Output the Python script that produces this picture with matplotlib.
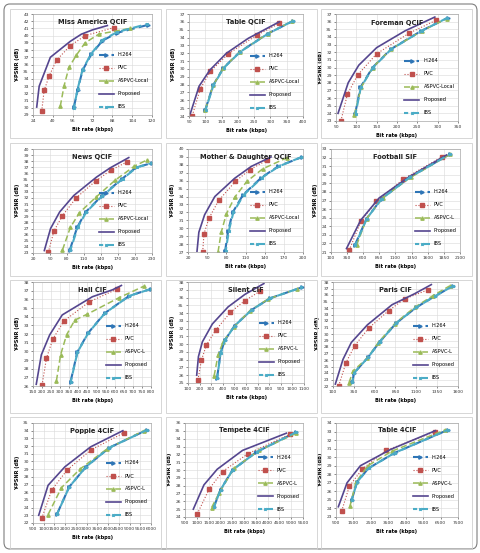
"""
courbes debit / distorsion, 12 sequences
"""
import matplotlib
matplotlib.use('Agg')
import matplotlib.pyplot as plt
from matplotlib.patches import Rectangle, FancyBboxPatch

W, H = 481, 553

# --- donnees (kbps, dB) ---
# Miss America QCIF
miss_h264 = ([57, 60, 64, 71, 80, 92, 117], [30.1, 32.5, 35.2, 37.4, 39.3, 40.4, 41.5])
miss_pvc = ([31, 33, 37, 43, 54, 66, 89], [29.5, 32.4, 34.4, 36.6, 38.6, 40.0, 41.1])
miss_aspvc = ([46, 49, 53, 59, 66, 77, 102], [30.2, 33.0, 35.6, 37.3, 39.0, 40.2, 41.0])
miss_prop = ([27, 29, 38, 54, 63, 72, 84], [30.1, 33.0, 37.0, 39.2, 40.2, 40.8, 41.4])
miss_ibs = ([57, 60, 64, 71, 80, 92, 116], [30.0, 32.6, 35.3, 37.5, 39.4, 40.5, 41.6])

# Table QCIF
tabq_h264 = ([100, 124, 155, 207, 292, 369], [24.8, 27.9, 30.1, 32.2, 34.5, 36.1])
tabq_pvc = ([60, 85, 116, 170, 258, 327], [24.05, 27.5, 29.7, 31.9, 34.3, 35.8])
tabq_aspvc = ([100, 124, 155, 207, 292, 367], [24.8, 27.9, 30.1, 32.2, 34.5, 36.1])
tabq_prop = ([54, 81, 114, 165, 232, 327], [24.3, 27.8, 29.85, 32.0, 33.9, 36.0])
tabq_ibs = ([101, 125, 156, 208, 293, 368], [24.8, 27.9, 30.1, 32.2, 34.5, 36.1])

# Foreman QCIF
fore_h264 = ([97, 110, 140, 185, 260, 325], [23.9, 27.4, 30.0, 32.4, 34.8, 36.5])
fore_pvc = ([62, 78, 103, 150, 230, 297], [23.0, 26.5, 29.0, 31.8, 34.5, 36.2])
fore_aspvc = ([95, 112, 140, 185, 262, 322], [23.8, 27.4, 30.0, 32.4, 34.8, 36.4])
fore_prop = ([55, 80, 106, 150, 220, 293], [24.0, 28.0, 30.3, 32.6, 34.8, 36.6])
fore_ibs = ([98, 111, 141, 186, 261, 324], [23.9, 27.4, 30.0, 32.4, 34.8, 36.5])

# News QCIF
news_h264 = ([85, 98, 113, 141, 177, 202, 230], [23.5, 27.2, 29.7, 32.3, 35.1, 37.0, 37.7])
news_pvc = ([47, 57, 72, 96, 131, 157, 186], [23.1, 26.6, 29.1, 32.0, 34.8, 36.5, 37.9])
news_aspvc = ([72, 86, 102, 132, 165, 199, 221], [23.5, 27.2, 29.6, 32.2, 34.9, 37.2, 38.2])
news_prop = ([40, 51, 67, 92, 132, 156, 189], [23.4, 27.0, 29.7, 32.4, 35.4, 36.9, 38.6])
news_ibs = ([86, 99, 114, 142, 178, 203, 230], [23.5, 27.2, 29.7, 32.3, 35.1, 37.0, 37.7])

# Mother & Daughter QCIF
moth_h264 = ([78, 83, 90, 106, 135, 161, 199], [27.1, 29.7, 32.0, 34.2, 36.4, 37.8, 39.0])
moth_pvc = ([43, 45, 53, 68, 94, 117, 144], [27.0, 29.3, 31.3, 33.5, 35.9, 37.4, 38.6])
moth_aspvc = ([67, 72, 80, 93, 112, 137, 175], [27.0, 29.5, 31.8, 33.9, 35.9, 37.5, 38.9])
moth_prop = ([34, 37, 46, 62, 93, 119, 150], [27.0, 29.5, 31.7, 34.0, 36.3, 37.8, 39.0])
moth_ibs = ([79, 84, 91, 107, 136, 162, 198], [27.1, 29.7, 32.0, 34.2, 36.4, 37.8, 39.0])

# Football SIF
foot_h264 = ([470, 653, 883, 1318, 1943], [21.8, 24.9, 27.2, 29.7, 32.4])
foot_pvc = ([382, 565, 805, 1223, 1823], [21.2, 24.6, 26.9, 29.5, 32.1])
foot_aspvc = ([497, 653, 900, 1334, 1949], [21.8, 24.9, 27.3, 29.7, 32.4])
foot_prop = ([340, 560, 847, 1300, 1890], [21.4, 24.7, 27.3, 29.7, 32.3])
foot_ibs = ([475, 655, 885, 1320, 1945], [21.8, 24.9, 27.2, 29.7, 32.4])

# Hall CIF
hall_h264 = ([357, 394, 453, 545, 680, 800], [26.5, 29.9, 32.1, 34.4, 36.4, 37.2])
hall_pvc = ([200, 224, 259, 320, 459, 615], [26.1, 29.2, 31.4, 33.5, 35.7, 37.2])
hall_aspvc = ([279, 302, 335, 380, 450, 625, 759], [26.6, 29.6, 31.9, 33.6, 34.3, 36.2, 37.5])
hall_prop = ([168, 196, 242, 311, 477, 588, 637], [26.2, 29.6, 31.9, 34.2, 36.3, 37.1, 37.6])
hall_ibs = ([358, 395, 454, 546, 681, 800], [26.5, 29.9, 32.1, 34.4, 36.4, 37.2])

# Silent CIF
sil_h264 = ([351, 380, 417, 503, 648, 806, 1080], [25.7, 28.8, 30.5, 32.4, 34.4, 35.9, 37.3])
sil_pvc = ([186, 215, 259, 339, 466, 590, 720], [25.4, 27.9, 29.9, 31.8, 34.1, 35.6, 36.8])
sil_aspvc = ([325, 359, 403, 495, 633, 790, 1037], [25.9, 28.6, 30.3, 32.2, 34.3, 35.8, 37.1])
sil_prop = ([175, 190, 224, 310, 446, 590, 754], [26.0, 28.4, 30.3, 32.6, 34.8, 36.4, 37.8])
sil_ibs = ([352, 381, 418, 504, 649, 807, 1078], [25.7, 28.8, 30.5, 32.4, 34.4, 35.9, 37.3])

# Paris CIF
par_h264 = ([332, 352, 520, 660, 860, 1100, 1320, 1540], [22.6, 24.0, 26.4, 28.8, 31.7, 34.1, 35.8, 37.4])
par_pvc = ([168, 256, 360, 528, 768, 960, 1240], [22.0, 25.6, 28.2, 30.9, 33.6, 35.4, 36.8])
par_aspvc = ([292, 340, 512, 640, 840, 1080, 1300, 1500], [22.5, 24.3, 26.3, 28.6, 31.6, 34.1, 35.9, 37.4])
par_prop = ([128, 220, 320, 512, 808, 1080, 1280], [22.3, 26.1, 28.7, 31.4, 34.5, 36.2, 37.6])
par_ibs = ([333, 353, 521, 661, 861, 1101, 1321, 1541], [22.6, 24.0, 26.4, 28.8, 31.7, 34.1, 35.8, 37.4])

# Popple 4CIF
pop_h264 = ([1625, 2188, 2969, 4063, 5813], [23.2, 26.7, 29.3, 31.8, 34.1])
pop_pvc = ([906, 1375, 2094, 3203, 4719], [22.6, 26.3, 28.9, 31.5, 33.7])
pop_aspvc = ([1203, 1828, 2688, 3938, 5656], [23.1, 26.6, 29.0, 31.6, 34.0])
pop_prop = ([766, 1203, 1984, 3188, 4688], [23.0, 26.9, 29.3, 31.9, 34.0])
pop_ibs = ([1630, 2190, 2970, 4065, 5815], [23.2, 26.7, 29.3, 31.8, 34.1])

# Tempete 4CIF
temp_h264 = ([1725, 2007, 2514, 3528, 5190], [25.3, 27.5, 30.0, 32.3, 34.8])
temp_pvc = ([1021, 1528, 2092, 3176, 4965], [24.4, 27.6, 29.8, 32.1, 34.6])
temp_aspvc = ([1627, 1951, 2570, 3640, 5218], [25.2, 27.1, 30.2, 32.5, 34.7])
temp_prop = ([852, 1303, 1866, 2937, 4796], [25.0, 28.1, 30.1, 32.5, 34.7])
temp_ibs = ([1730, 2010, 2518, 3530, 5192], [25.3, 27.5, 30.0, 32.3, 34.8])

# Table 4CIF
tab4_h264 = ([1402, 1709, 2361, 3858, 6929], [25.0, 27.1, 28.7, 30.5, 33.2])
tab4_pvc = ([826, 1268, 2000, 3379, 6200], [23.7, 26.6, 28.6, 30.8, 33.0])
tab4_aspvc = ([1306, 1651, 2323, 3705, 6775], [24.3, 27.1, 29.0, 30.7, 33.2])
tab4_prop = ([634, 1133, 1900, 3628, 6200], [24.2, 27.0, 29.0, 30.9, 33.1])
tab4_ibs = ([1405, 1712, 2365, 3860, 6930], [25.0, 27.1, 28.7, 30.5, 33.2])

# titre, legende aspvc, (xmin, xmax, pas), (ymin, ymax), series
panels = [
    ('Miss America QCIF', 'ASPVC-Local', (24, 120, 16), (29, 43), (miss_h264, miss_pvc, miss_aspvc, miss_prop, miss_ibs)),
    ('Table QCIF', 'ASPVC-Local', (50, 400, 50), (24, 37), (tabq_h264, tabq_pvc, tabq_aspvc, tabq_prop, tabq_ibs)),
    ('Foreman QCIF', 'ASPVC-Local', (50, 350, 50), (23, 37), (fore_h264, fore_pvc, fore_aspvc, fore_prop, fore_ibs)),
    ('News QCIF', 'ASPVC-Local', (20, 230, 30), (23, 40), (news_h264, news_pvc, news_aspvc, news_prop, news_ibs)),
    ('Mother & Daughter QCIF', 'ASPVC-Local', (20, 200, 30), (27, 40), (moth_h264, moth_pvc, moth_aspvc, moth_prop, moth_ibs)),
    ('Football SIF', 'ASPVC-L', (100, 2100, 250), (21, 33), (foot_h264, foot_pvc, foot_aspvc, foot_prop, foot_ibs)),
    ('Hall CIF', 'ASPVC-L', (150, 800, 50), (26, 38), (hall_h264, hall_pvc, hall_aspvc, hall_prop, hall_ibs)),
    ('Silent CIF', 'ASPVC-L', (100, 1100, 100), (25, 38), (sil_h264, sil_pvc, sil_aspvc, sil_prop, sil_ibs)),
    ('Paris CIF', 'ASPVC-L', (100, 1600, 250), (22, 38), (par_h264, par_pvc, par_aspvc, par_prop, par_ibs)),
    ('Popple 4CIF', 'ASPVC-L', (500, 6000, 500), (22, 35), (pop_h264, pop_pvc, pop_aspvc, pop_prop, pop_ibs)),
    ('Tempete 4CIF', 'ASPVC-L', (500, 5500, 500), (24, 36), (temp_h264, temp_pvc, temp_aspvc, temp_prop, temp_ibs)),
    ('Table 4CIF', 'ASPVC-L', (500, 7500, 1000), (23, 34), (tab4_h264, tab4_pvc, tab4_aspvc, tab4_prop, tab4_ibs)),
]

# zone de trace de chaque graphe en pixels : gauche, haut, droite, bas
boxes = [
    (33, 14, 152, 115), (189, 14, 303, 116), (336, 14, 458, 121),
    (33, 149, 152, 253), (188, 149, 303, 252), (331, 149, 460, 252),
    (33, 282, 151, 386), (188, 282, 304, 383), (333, 282, 458, 386),
    (33, 423, 151, 523), (185, 423, 303, 517), (336, 423, 458, 517),
]
# cadres des vignettes
cols = [(10, 161), (166, 317), (321, 472)]
rows = [(9, 138), (143, 276), (280, 413), (417, 549)]

c_h264 = '#2E75B6'
c_pvc = '#C0504D'
c_aspvc = '#9BBB59'
c_prop = '#55468F'
c_ibs = '#4BACC6'

fig = plt.figure(figsize=(W/100, H/100), dpi=100)
fig.patch.set_facecolor('white')

# cadre arrondi exterieur
fig.patches.append(FancyBboxPatch((4/W, 4/H), 473/W, 545/H, boxstyle='round,pad=0,rounding_size=0.012',
                                  transform=fig.transFigure, fill=False, ec='#7F7F7F', lw=0.8))
for (x0, x1) in cols:
    for (y0, y1) in rows:
        fig.patches.append(Rectangle((x0/W, 1-y1/H), (x1-x0)/W, (y1-y0)/H, transform=fig.transFigure,
                                     fill=False, ec='#D0D0D0', lw=0.6))

for i, (title, alab, xr, yr, ser) in enumerate(panels):
    l, t, r, b = boxes[i]
    ax = fig.add_axes([l/W, 1-b/H, (r-l)/W, (b-t)/H])
    h264, pvc, aspvc, prop, ibs = ser
    ax.plot(h264[0], h264[1], color=c_h264, ls=(0, (4, 2)), lw=1.5, marker='>', ms=2.4, label='H.264')
    ax.plot(pvc[0], pvc[1], color=c_pvc, ls=':', lw=0.8, marker='s', ms=3.2, label='PVC')
    ax.plot(aspvc[0], aspvc[1], color=c_aspvc, ls=(0, (4, 2)), lw=1.1, marker='^', ms=2.4, label=alab)
    ax.plot(prop[0], prop[1], color=c_prop, ls='-', lw=1.2, label='Proposed')
    ax.plot(ibs[0], ibs[1], color=c_ibs, ls=(2, (4, 2)), lw=1.5, marker='x', ms=1.8, label='IBS')
    ax.set_xlim(xr[0], xr[1])
    ax.set_ylim(yr[0], yr[1])
    ax.set_xticks(range(xr[0], xr[1]+1, xr[2]))
    ax.set_yticks(range(yr[0], yr[1]+1))
    ax.tick_params(labelsize=3.2, length=1.5, width=0.4, pad=1.5, colors='#333333')
    ax.grid(True, color='#D9D9D9', lw=0.4)
    ax.set_axisbelow(True)
    for s in ax.spines.values():
        s.set_color('#A6A6A6')
        s.set_linewidth(0.5)
    ax.set_title(title, fontsize=4.8, fontweight='bold', y=0.9, pad=0, color='#222222')
    ax.set_xlabel('Bit rate (kbps)', fontsize=3.6, fontweight='bold', labelpad=3)
    ax.set_ylabel('Y-PSNR (dB)', fontsize=3.6, fontweight='bold', labelpad=2)
    ax.legend(loc='lower right', bbox_to_anchor=(1.0, 0.02), fontsize=3.6, frameon=False,
              handlelength=3.0, labelspacing=1.6, borderaxespad=0.3)

fig.savefig('out.png', dpi=100, facecolor='white')
